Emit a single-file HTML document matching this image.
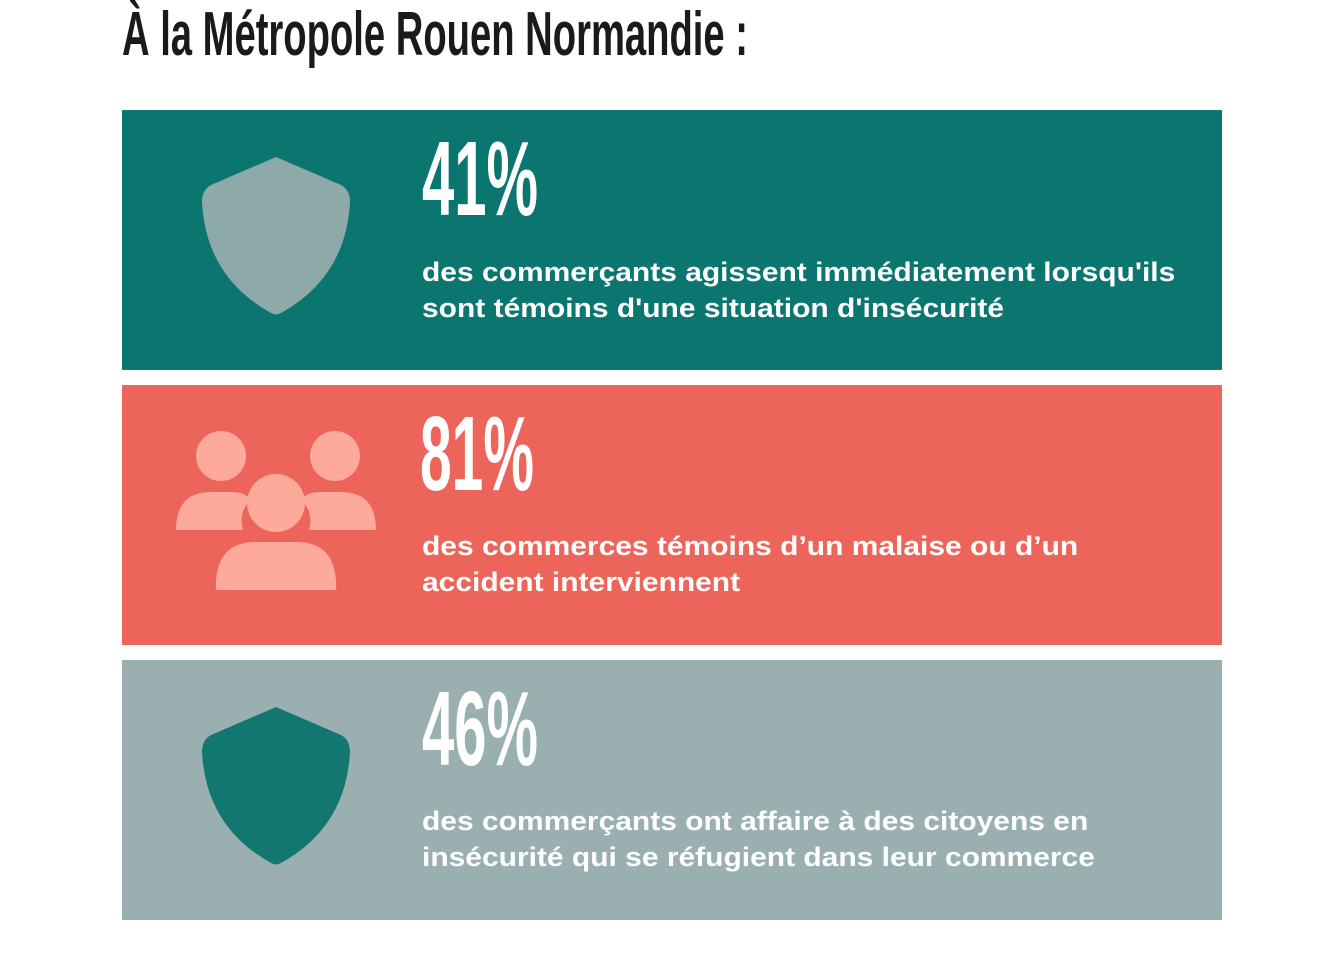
<!DOCTYPE html>
<html><head><meta charset="utf-8"><style>
body{margin:0;width:1344px;height:960px;background:#fff;position:relative;overflow:hidden;font-family:"Liberation Sans",sans-serif}
.fit{position:absolute;white-space:nowrap;font-weight:bold;transform-origin:0 0;line-height:1}
.panel{position:absolute;left:122px;width:1100px;height:260px}
.txt{position:absolute;left:300px;color:#fff;font-weight:bold;font-size:27px;line-height:36px;white-space:nowrap;transform:scaleX(1.11);transform-origin:0 0}
svg{position:absolute}
</style></head><body>
<div class="fit" id="title" data-w="626" style="left:122px;top:4px;color:#1a1a1a;font-size:62px">À la Métropole Rouen Normandie :</div>

<div class="panel" style="top:110px;background:#0b7570">
<svg style="left:79px;top:47px" width="150" height="160" viewBox="0 0 150 160"><path d="M75 0 L140 28 Q149 33 149 45 Q145 120 80 156 Q75 159 70 156 Q5 120 1 45 Q1 33 10 28 Z" fill="#8eaaa8"/></svg>
<div class="fit big" data-w="116" style="left:300px;top:16px;color:#fff;font-size:106px">41%</div>
<div class="txt" style="top:144px">des commerçants agissent immédiatement lorsqu'ils<br>sont témoins d'une situation d'insécurité</div>
</div>

<div class="panel" style="top:385px;background:#ec645a">
<svg style="left:54px;top:45px" width="200" height="162" viewBox="0 0 200 162"><g fill="#fda99c">
<circle cx="45" cy="26" r="25"/><circle cx="159" cy="26" r="25"/>
<path d="M0 100 Q0 62 35 62 L55 62 Q70 62 75 70 Q62 82 67 100 Z"/>
<path d="M200 100 Q200 62 165 62 L145 62 Q130 62 125 70 Q138 82 133 100 Z"/>
<circle cx="100" cy="73" r="29"/>
<path d="M40 160 Q38 112 80 112 L120 112 Q162 112 160 160 Z"/>
</g></svg>
<div class="fit big" data-w="114" style="left:298px;top:16px;color:#fff;font-size:106px">81%</div>
<div class="txt" style="top:143px">des commerces témoins d’un malaise ou d’un<br>accident interviennent</div>
</div>

<div class="panel" style="top:660px;background:#9aafaf">
<svg style="left:79px;top:47px" width="150" height="160" viewBox="0 0 150 160"><path d="M75 0 L140 28 Q149 33 149 45 Q145 120 80 156 Q75 159 70 156 Q5 120 1 45 Q1 33 10 28 Z" fill="#137771"/></svg>
<div class="fit big" data-w="116" style="left:300px;top:16px;color:#fff;font-size:106px">46%</div>
<div class="txt" style="top:143px">des commerçants ont affaire à des citoyens en<br>insécurité qui se réfugient dans leur commerce</div>
</div>
<script>
document.querySelectorAll('.fit').forEach(function(el){
  var w=el.getBoundingClientRect().width;
  var s=(+el.dataset.w)/w;
  el.style.transform='scaleX('+s+')';
});
</script>
</body></html>
